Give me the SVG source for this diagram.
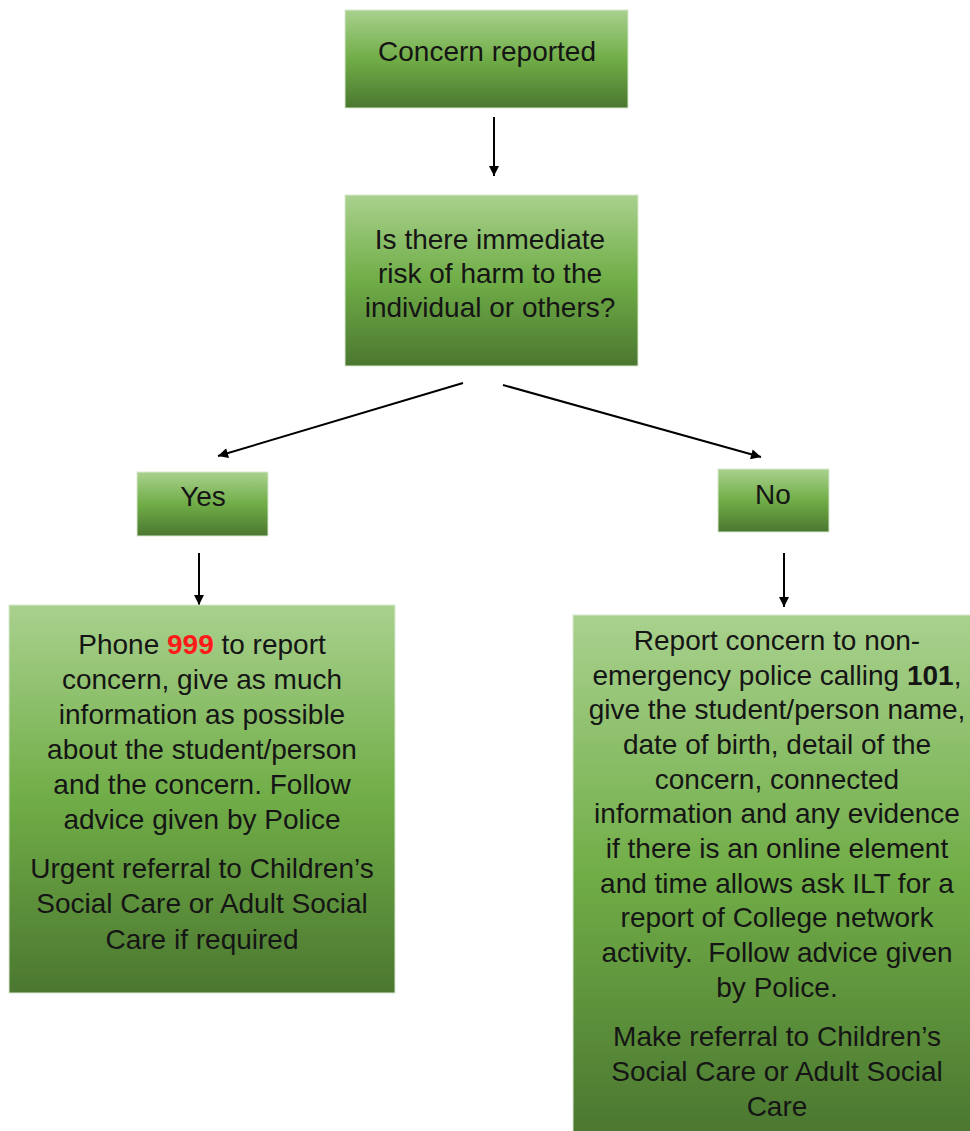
<svg xmlns="http://www.w3.org/2000/svg" width="970" height="1131" viewBox="0 0 970 1131">
<defs>
<linearGradient id="g" x1="0" y1="0" x2="0" y2="1">
<stop offset="0" stop-color="#a9d18e"/>
<stop offset="0.5" stop-color="#70ad47"/>
<stop offset="1" stop-color="#4b7730"/>
</linearGradient>
<marker id="ah" viewBox="0 0 10 10" refX="10" refY="5" markerWidth="11" markerHeight="10" orient="auto" markerUnits="userSpaceOnUse">
<path d="M0,0 L10,5 L0,10 z" fill="#000"/>
</marker>
<style>
.box{fill:url(#g);stroke:#d9e8cf;stroke-width:1}
.t{font-family:"Liberation Sans",Arial,sans-serif;font-size:28px;fill:#151515;text-anchor:middle}
.c{stroke:#000;stroke-width:2;fill:none;marker-end:url(#ah)}
</style>
</defs>
<rect width="970" height="1131" fill="#fff"/>
<g id="connectors">
<line class="c" x1="494" y1="117" x2="494" y2="176"/>
<line class="c" x1="463" y1="383" x2="218" y2="456"/>
<line class="c" x1="503" y1="385" x2="761" y2="457"/>
<line class="c" x1="199" y1="553" x2="199" y2="605"/>
<line class="c" x1="784" y1="553" x2="784" y2="607"/>
</g>
<g id="n1">
<rect class="box" x="345" y="10" width="283" height="98"/>
<text class="t" x="487" y="61">Concern reported</text>
</g>
<g id="n2">
<rect class="box" x="345" y="195" width="293" height="171"/>
<text class="t" x="490" y="249">Is there immediate</text>
<text class="t" x="490" y="283">risk of harm to the</text>
<text class="t" x="490" y="317">individual or others?</text>
</g>
<g id="yes">
<rect class="box" x="137" y="472" width="131" height="64"/>
<text class="t" x="203" y="506">Yes</text>
</g>
<g id="no">
<rect class="box" x="718" y="469" width="111" height="63"/>
<text class="t" x="773" y="504">No</text>
</g>
<g id="yesAction">
<rect class="box" x="9" y="605" width="386" height="388"/>
<text class="t" x="202" y="654">Phone <tspan font-weight="bold" fill="#ff1a1a">999</tspan> to report</text>
<text class="t" x="202" y="689">concern, give as much</text>
<text class="t" x="202" y="724">information as possible</text>
<text class="t" x="202" y="759">about the student/person</text>
<text class="t" x="202" y="794">and the concern. Follow</text>
<text class="t" x="202" y="829">advice given by Police</text>
<text class="t" x="202" y="878">Urgent referral to Children’s</text>
<text class="t" x="202" y="913">Social Care or Adult Social</text>
<text class="t" x="202" y="949">Care if required</text>
</g>
<g id="noAction">
<rect class="box" x="573" y="615" width="400" height="520"/>
<text class="t" x="777" y="650">Report concern to non-</text>
<text class="t" x="777" y="685">emergency police calling <tspan font-weight="bold">101</tspan>,</text>
<text class="t" x="777" y="719">give the student/person name,</text>
<text class="t" x="777" y="754">date of birth, detail of the</text>
<text class="t" x="777" y="789">concern, connected</text>
<text class="t" x="777" y="823">information and any evidence</text>
<text class="t" x="777" y="858">if there is an online element</text>
<text class="t" x="777" y="893">and time allows ask ILT for a</text>
<text class="t" x="777" y="927">report of College network</text>
<text class="t" x="777" y="962" xml:space="preserve">activity.  Follow advice given</text>
<text class="t" x="777" y="997">by Police.</text>
<text class="t" x="777" y="1046">Make referral to Children’s</text>
<text class="t" x="777" y="1081">Social Care or Adult Social</text>
<text class="t" x="777" y="1116">Care</text>
</g>
</svg>
